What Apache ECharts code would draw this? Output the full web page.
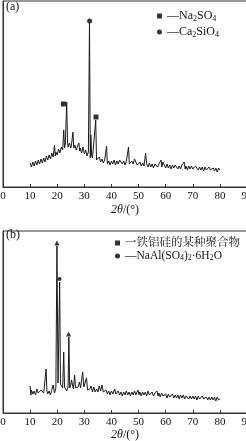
<!DOCTYPE html>
<html>
<head>
<meta charset="utf-8">
<script src="https://cdn.jsdelivr.net/npm/echarts@6/dist/echarts.min.js"></script>
<style>html,body{margin:0;padding:0;background:#fff;}#c{width:246px;height:441px;}</style>
</head>
<body>
<div id="c"></div>
<script>
// ---- tick labels ----
var xTicks = [0, 10, 20, 30, 40, 50, 60, 70, 80, 90];
var xAxisTitle = '{i|2θ}/(°)';

// ---- panel (a) pattern ----
var anglesA = [10.0,10.5,11.0,11.5,12.0,12.5,13.0,13.5,14.0,14.5,15.0,15.5,16.0,16.5,17.0,17.5,18.0,18.5,19.0,19.3,19.5,20.0,20.5,21.0,21.5,22.0,22.4,22.7,23.0,23.5,23.8,24.0,24.5,25.0,25.3,25.8,26.1,26.5,27.0,27.5,28.0,28.3,28.5,29.0,29.5,30.0,30.5,31.0,31.5,31.9,32.2,32.4,32.7,33.0,33.5,34.2,34.5,35.0,35.5,36.0,36.5,37.0,37.5,38.2,38.5,39.0,39.5,40.0,40.5,41.0,41.5,42.0,42.5,43.0,43.5,44.0,44.5,45.0,45.5,46.3,46.6,47.0,47.5,48.0,48.5,49.0,49.5,50.0,50.5,51.0,51.5,52.0,52.6,53.0,53.5,54.0,54.5,55.0,55.5,56.0,56.5,57.0,57.5,58.3,58.6,59.0,59.5,60.0,60.5,61.0,61.5,62.0,62.5,63.0,63.5,64.2,64.5,65.0,65.5,66.0,66.8,67.2,67.5,68.0,68.5,69.0,69.5,70.0,70.5,71.0,71.5,72.0,72.5,73.0,73.5,74.0,74.5,75.0,75.5,76.0,76.5,77.0,77.5,78.0,78.5,79.0,79.5,80.0];
var intensityA = [24,20,25,21,26,22,27,23,28,24,29,25,31,27,32,28,34,30,42,31,35,32,38,34,40,37,57,39,43,85,45,40,44,39,43,55,39,42,37,41,44,36,39,34,40,33,37,31,35,164,29,52,32,29,30,67,27,28,30,25,28,24,27,41,23,26,22,26,23,27,22,26,23,27,28,23,26,22,26,40,23,22,26,23,28,27,22,21,25,21,24,21,34,23,20,24,20,23,19,23,24,20,23,27,20,25,22,19,23,19,22,18,22,19,22,24,18,21,18,22,25,18,21,17,21,18,21,18,17,21,21,17,20,17,20,16,20,17,16,20,17,16,19,16,19,15,19,17];
// phase markers (a)
var na2so4Marks = [[22.3, 83], [34.3, 70]];
var ca2sio4Marks = [[31.95, 166]];

// ---- panel (b) pattern ----
var anglesB = [10.0,10.3,10.5,11.0,11.5,12.0,12.5,12.8,13.0,13.5,14.0,14.5,15.0,15.5,15.9,16.2,16.5,17.0,17.5,18.0,18.5,19.0,19.5,19.9,20.3,20.6,20.9,21.2,21.5,22.0,22.4,22.7,23.0,23.5,24.0,24.3,24.6,25.0,25.3,25.7,26.0,26.4,26.8,27.3,27.7,28.2,28.6,29.0,29.4,29.8,30.3,30.8,31.2,31.5,32.0,32.5,33.0,33.5,34.0,34.5,35.0,35.5,36.0,36.5,37.0,37.5,38.0,38.5,39.0,39.5,40.0,40.5,41.2,41.6,42.0,42.5,43.0,43.5,44.0,44.5,45.0,45.5,46.0,46.5,47.0,47.5,48.0,48.5,49.0,49.8,50.2,50.5,51.0,51.5,52.0,52.5,53.0,53.5,54.0,54.5,55.0,55.5,56.0,56.8,57.2,57.5,58.0,58.5,59.0,59.5,60.0,60.5,61.0,61.5,62.0,62.5,63.0,63.5,64.0,64.5,65.0,65.5,66.0,66.5,67.0,67.5,68.0,68.5,69.0,69.5,70.0,70.5,71.0,71.5,72.0,72.5,73.0,73.5,74.0,74.5,75.0,75.5,76.0,76.5,77.0,77.5,78.0,78.5,79.0,79.5,80.0];
var intensityB = [27,18,23,19,22,18,24,25,20,19,23,25,20,19,44,22,19,22,18,23,28,20,25,167,30,28,131,29,27,25,61,26,24,22,26,76,25,28,33,27,24,38,25,24,26,31,25,27,41,26,24,35,23,21,24,27,21,26,21,24,21,27,22,28,21,19,23,19,22,18,22,19,24,19,18,22,18,21,17,21,18,22,18,21,17,21,18,22,18,23,18,21,17,21,18,21,17,22,18,17,21,17,20,22,17,20,16,20,17,16,19,15,19,16,15,19,15,18,15,18,14,18,15,18,14,17,16,14,17,14,17,14,17,13,17,14,13,17,14,13,16,13,16,13,16,13,16,12,16,13,14];
// phase markers (b)
var polymerMarks = [[19.9, 170], [24.2, 79]];
var naalMarks = [[20.86, 134]];

// ---- legend names ----
var namesA = ['Na2SO4', 'Ca2SiO4'];
var namesB = ['铁铝硅的某种聚合物', 'NaAl(SO4)2·6H2O'];
var legendTextA = {'Na2SO4': '—Na{s|2}SO{s|4}', 'Ca2SiO4': '—Ca{s|2}SiO{s|4}'};
var legendTextB = {'铁铝硅的某种聚合物': '一铁铝硅的某种聚合物', 'NaAl(SO4)2·6H2O': '—NaAl(SO{s|4}){s|2}·6H{s|2}O'};

function pairs(xs, ys) { return xs.map(function (x, i) { return [x, ys[i]]; }); }

var FONT = "'Liberation Serif', 'Noto Serif CJK SC', 'Noto Sans CJK SC', serif";
var INK = '#1a1a1a';
var AXIS = '#333';

function xAxisCfg(gridIndex, gap) {
  return {
    type: 'value', gridIndex: gridIndex, min: 0, max: 90, interval: 10,
    axisLine: {show: true, lineStyle: {color: AXIS, width: 1}},
    axisTick: {show: true, inside: true, length: 3, lineStyle: {color: AXIS}},
    axisLabel: {show: true, margin: 4, fontSize: 11, color: '#111', fontFamily: FONT, hideOverlap: false,
      showMinLabel: true, showMaxLabel: true,
      formatter: function (v) { return xTicks.indexOf(v) >= 0 ? String(v) : ''; }},
    splitLine: {show: false},
    name: xAxisTitle, nameLocation: 'middle', nameGap: gap,
    nameTextStyle: {fontSize: 12, color: '#111', fontFamily: FONT,
      rich: {i: {fontStyle: 'italic', fontSize: 12, fontFamily: FONT, color: '#111'}}}
  };
}
function yAxisCfg(gridIndex, max) {
  return {
    type: 'value', gridIndex: gridIndex, min: 0, max: max,
    axisLine: {show: true, lineStyle: {color: AXIS, width: 1}},
    axisTick: {show: false}, axisLabel: {show: false}, splitLine: {show: false}
  };
}
var richSub = {s: {fontSize: 8, lineHeight: 8, verticalAlign: 'bottom', fontFamily: FONT, color: '#111'}};

var chart = echarts.init(document.getElementById('c'), null, {renderer: 'canvas'});
chart.setOption({
  animation: false,
  backgroundColor: '#fff',
  title: [
    {text: '(a)', left: 6, top: 1, padding: 0, textStyle: {fontSize: 12, fontWeight: 'normal', color: '#111', fontFamily: FONT}},
    {text: '(b)', left: 6, top: 229, padding: 0, textStyle: {fontSize: 12, fontWeight: 'normal', color: '#111', fontFamily: FONT}}
  ],
  grid: [
    {left: 3, top: 1, right: -1, height: 186, show: true, borderColor: AXIS, borderWidth: 1, backgroundColor: 'transparent',
      containLabel: false, outerBoundsMode: 'none'},
    {left: 3, top: 231, right: -1, height: 182, show: true, borderColor: AXIS, borderWidth: 1, backgroundColor: 'transparent',
      containLabel: false, outerBoundsMode: 'none'}
  ],
  xAxis: [xAxisCfg(0, 17), xAxisCfg(1, 15)],
  yAxis: [yAxisCfg(0, 186), yAxisCfg(1, 182)],
  legend: [
    {orient: 'vertical', left: 157, top: 9, padding: 0, itemGap: 2, itemWidth: 5, itemHeight: 5,
      data: [{name: namesA[0], icon: 'rect'}, {name: namesA[1], icon: 'circle'}],
      formatter: function (n) { return legendTextA[n]; },
      textStyle: {fontSize: 12, lineHeight: 14, color: '#111', fontFamily: FONT, rich: richSub}},
    {orient: 'vertical', left: 115, top: 237, padding: 0, itemGap: 1, itemWidth: 5, itemHeight: 5,
      data: [{name: namesB[0], icon: 'rect'}, {name: namesB[1], icon: 'circle'}],
      formatter: function (n) { return legendTextB[n]; },
      textStyle: {fontSize: 11.5, lineHeight: 12, color: '#111', fontFamily: FONT, rich: richSub}}
  ],
  series: [
    {type: 'line', name: 'patternA', xAxisIndex: 0, yAxisIndex: 0, data: pairs(anglesA, intensityA),
      showSymbol: false, symbol: 'none', lineStyle: {color: INK, width: 1}, silent: true},
    {type: 'scatter', name: namesA[0], xAxisIndex: 0, yAxisIndex: 0, data: na2so4Marks,
      symbol: 'rect', symbolSize: 5, itemStyle: {color: '#000'}},
    {type: 'scatter', name: namesA[1], xAxisIndex: 0, yAxisIndex: 0, data: ca2sio4Marks,
      symbol: 'circle', symbolSize: 5, itemStyle: {color: '#000'}},
    {type: 'line', name: 'patternB', xAxisIndex: 1, yAxisIndex: 1, data: pairs(anglesB, intensityB),
      showSymbol: false, symbol: 'none', lineStyle: {color: INK, width: 1}, silent: true},
    {type: 'scatter', name: namesB[0], xAxisIndex: 1, yAxisIndex: 1, data: polymerMarks,
      symbol: 'triangle', symbolSize: 5, itemStyle: {color: '#000'}},
    {type: 'scatter', name: namesB[1], xAxisIndex: 1, yAxisIndex: 1, data: naalMarks,
      symbol: 'circle', symbolSize: 4, itemStyle: {color: '#000'}}
  ]
});
</script>
</body>
</html>
